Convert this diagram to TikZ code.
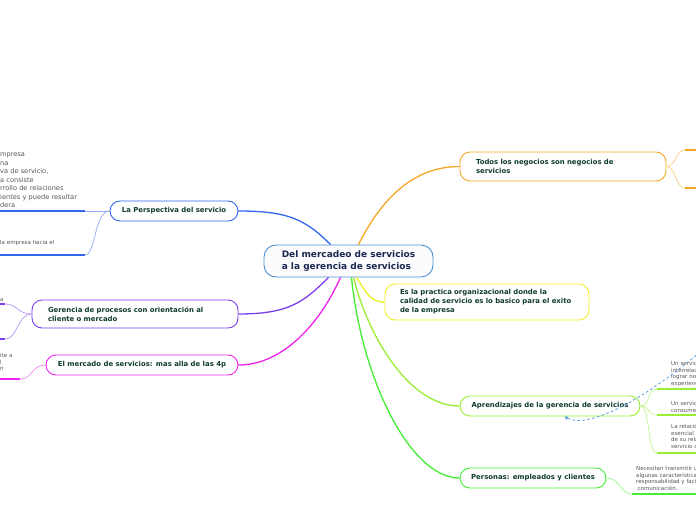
\documentclass[tikz,border=0pt]{standalone}
\usepackage{fontspec}
\setmainfont{DejaVu Sans}
\usepackage{xcolor}
\usetikzlibrary{arrows.meta}
\definecolor{rootline}{HTML}{4A90D0}
\definecolor{rootink}{HTML}{1A2850}
\definecolor{topicink}{HTML}{0E3B30}
\definecolor{leafink}{HTML}{555555}
\definecolor{linkblue}{HTML}{5599DD}
\definecolor{cblue}{HTML}{3366EE}
\definecolor{cpurple}{HTML}{7B3FF0}
\definecolor{cmagenta}{HTML}{EE22EE}
\definecolor{corange}{HTML}{F5A623}
\definecolor{cyellow}{HTML}{EEEE22}
\definecolor{clime}{HTML}{99EE33}
\definecolor{cgreen}{HTML}{44EE33}

\begin{document}
\begin{tikzpicture}[
        x=1pt, y=-1pt,
        rootnode/.style={draw=rootline, line width=0.9pt, rounded corners=12pt, fill=blue!1, align=left, font=\fontsize{9}{11.5}\selectfont\bfseries, text=rootink, minimum width=169pt, minimum height=32pt},
        topicnode/.style={draw=#1, line width=0.9pt, rounded corners=10pt, fill=white, font=\fontsize{6.9}{9}\selectfont\bfseries, text=topicink, minimum height=20pt},
        wraptopic/.style={topicnode=#1, align=left, inner xsep=16pt},
        leafnote/.style={anchor=south west, align=left, font=\fontsize{5.5}{6.8}\selectfont, text=leafink, inner xsep=2pt, inner ysep=2pt},
        branch/.style={draw=#1, line width=1.3pt},
        twig/.style={draw=#1!55, line width=0.7pt},
        under/.style={draw=#1, line width=1.6pt},
        crosslink/.style={draw=linkblue, line width=0.8pt, dash pattern=on 2.5pt off 2.5pt, -{Latex[length=4pt,width=4pt]}}
    ]
    \useasboundingbox (0,0) rectangle (696,520);
    \clip (0,0) rectangle (696,520);

    % centre and main topics
    \node[rootnode] (root) at (348.5,261) {Del mercadeo de servicios\\a la gerencia de servicios};
    \node[topicnode=cblue, minimum width=128pt] (persp) at (174,211) {La Perspectiva del servicio};
    \node[wraptopic=cpurple, text width=174pt, minimum height=28pt] (gerencia) at (135,314) {Gerencia de procesos con orientación al\\cliente o mercado};
    \node[topicnode=cmagenta, minimum width=192pt] (mercado) at (142,365) {El mercado de servicios: mas alla de las 4p};
    \node[wraptopic=corange, text width=174pt, minimum height=29pt] (todos) at (563,166.5) {Todos los negocios son negocios de\\servicios};
    \node[wraptopic=cyellow, text width=174pt, inner xsep=15pt, minimum height=36pt] (practica) at (487,302) {Es la practica organizacional donde la\\calidad de servicio es lo basico para el exito\\de la empresa};
    \node[topicnode=clime, minimum width=180pt] (aprend) at (550,406) {Aprendizajes de la gerencia de servicios};
    \node[topicnode=cgreen, minimum width=146pt] (personas) at (533,478) {Personas: empleados y clientes};

    \draw[branch=cblue] ([xshift=-18pt]root.north) .. controls +(-25,-25) and +(50,0) .. (persp.east);
    \draw[branch=cpurple] ([xshift=-20pt]root.south) .. controls +(-25,25) and +(50,0) .. (gerencia.east);
    \draw[branch=cmagenta] ([xshift=-8pt]root.south) .. controls +(-20,45) and +(45,0) .. (mercado.east);
    \draw[branch=corange] ([xshift=10pt]root.north) .. controls +(20,-40) and +(-50,0) .. (todos.west);
    \draw[branch=cyellow] ([xshift=8pt]root.south) .. controls +(10,15) and +(-15,0) .. (practica.west);
    \draw[branch=clime] ([xshift=5pt]root.south) .. controls +(15,60) and +(-50,0) .. (aprend.west);
    \draw[branch=cgreen] ([xshift=3pt]root.south) .. controls +(10,100) and +(-50,0) .. (personas.west);

    % leaves on the left
    \node[leafnote, font=\fontsize{6.6}{8.5}\selectfont, text width=85pt, inner xsep=0pt, inner ysep=3pt] (perspa) at (0,211) {mpresa\\na\\va de servicio,\\a consiste\\rrollo de relaciones\\ientes y puede resultar\\dera};
    \node[leafnote, text width=85pt, inner xsep=0pt, inner ysep=9pt] (perspb) at (0,255) {la empresa hacia el};
    \node[leafnote, text width=5pt, inner xsep=0pt] (gerena) at (0,304) {a};
    \node[leafnote, text width=5pt, inner xsep=0pt] (gerenb) at (0,339) {};
    \node[leafnote, text width=20pt, inner xsep=0pt, inner ysep=8pt] (mercadoa) at (0,379) {ite a\\l\\n};

    \draw[twig=cblue] (persp.west) .. controls +(-12,0) and +(12,0) .. (perspa.south east);
    \draw[twig=cblue] (persp.west) .. controls +(-15,0) and +(10,0) .. (perspb.south east);
    \draw[twig=cpurple] (gerencia.west) .. controls +(-14,0) and +(12,0) .. (gerena.south east);
    \draw[twig=cpurple] (gerencia.west) .. controls +(-14,0) and +(12,0) .. (gerenb.south east);
    \draw[twig=cmagenta] (mercado.west) .. controls +(-14,0) and +(12,0) .. (mercadoa.south east);
    \foreach \leaf/\col in {perspa/cblue, perspb/cblue, gerena/cpurple, gerenb/cpurple, mercadoa/cmagenta}
        \draw[under=\col] (\leaf.south west) -- (\leaf.south east);

    % leaves on the right
    \node[leafnote, text width=40pt] (todosa) at (685,150) {};
    \node[leafnote, text width=40pt] (todosb) at (685,188) {};
    \node[leafnote, text width=60pt, inner xsep=14pt] (aprenda) at (657,389) {Un servic\\interrelac\\lograr no\\experienc};
    \node[leafnote, text width=60pt, inner xsep=14pt] (aprendb) at (657,415) {Un servic\\consume};
    \node[leafnote, text width=60pt, inner xsep=14pt, inner ysep=4pt] (aprendc) at (657,453) {La relació\\esencial\\de su rela\\servicio d};
    \node[leafnote, text width=80pt, inner xsep=4pt, inner ysep=3pt] (personasa) at (632,494) {Necesitan transmitir u\\algunas característica\\responsabilidad y faci\\\hspace{1.5pt}comunicación.};

    \draw[twig=corange] (todos.east) .. controls +(10,0) and +(-10,0) .. (todosa.south west);
    \draw[twig=corange] (todos.east) .. controls +(10,0) and +(-10,0) .. (todosb.south west);
    \draw[twig=clime] (aprend.east) .. controls +(10,0) and +(-10,0) .. (aprenda.south west);
    \draw[twig=clime] (aprend.east) .. controls +(10,0) and +(-10,0) .. (aprendb.south west);
    \draw[twig=clime] (aprend.east) .. controls +(10,0) and +(-10,0) .. (aprendc.south west);
    \draw[twig=cgreen] (personas.east) .. controls +(14,0) and +(-12,0) .. (personasa.south west);
    \foreach \leaf/\col in {todosa/corange, todosb/corange, aprenda/clime, aprendb/clime, aprendc/clime, personasa/cgreen}
        \draw[under=\col] (\leaf.south west) -- (\leaf.south east);

    % dashed relation
    \coordinate (linkstart) at (700,352);
    \draw[crosslink] (linkstart) .. controls (650,395) and (590,430) .. ([xshift=14pt]aprend.south);
\end{tikzpicture}
\end{document}
